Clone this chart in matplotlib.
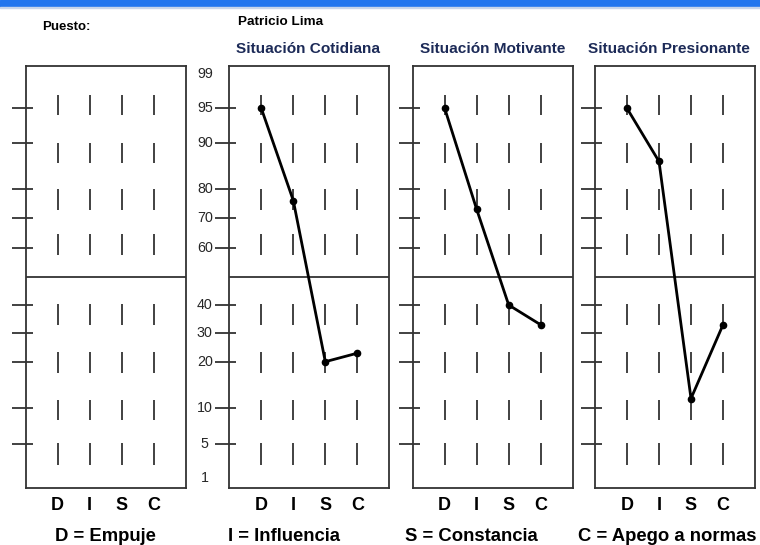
import numpy as np
import matplotlib
matplotlib.use("Agg")
import matplotlib.pyplot as plt
from matplotlib.patches import Rectangle

W, H = 760, 545

# --- data -------------------------------------------------------------
factors = ["D", "I", "S", "C"]
situations = ["Situación Cotidiana", "Situación Motivante", "Situación Presionante"]
cotidiana = [95, 76, 20, 23]
motivante = [95, 73, 40, 33]
presionante = [95, 86, 12, 33]
series = [None, cotidiana, motivante, presionante]

tick_values = [95, 90, 80, 70, 60, 40, 30, 20, 10, 5]
label_values = [99, 95, 90, 80, 70, 60, 40, 30, 20, 10, 5, 1]
legend_texts = ["D = Empuje", "I = Influencia", "S = Constancia", "C = Apego a normas"]
person = "Patricio Lima"

# percentile scale of the chart (percentile -> fraction of the box height)
SCALE_PCT = [0, 1, 5, 10, 20, 30, 40, 50, 60, 70, 80, 90, 95, 99, 100]
_px = [488, 478, 444.3, 407.7, 361.7, 333.3, 305, 276.7, 247.7, 218.3, 188.7, 143.3, 108.3, 74, 65.7]
SCALE_POS = [(488 - p) / 422.3 for p in _px]


def fwd(v):
    return np.interp(v, SCALE_PCT, SCALE_POS)


def inv(v):
    return np.interp(v, SCALE_POS, SCALE_PCT)


# short vertical marks inside each box (axes fractions)
mark_rows = [(0.883, 0.931), (0.770, 0.817), (0.658, 0.708), (0.552, 0.602),
             (0.386, 0.436), (0.272, 0.322), (0.161, 0.208), (0.055, 0.107)]

edge = "#333333"
font = "Liberation Sans"

fig = plt.figure(figsize=(W / 100, H / 100), dpi=100)
fig.patch.set_facecolor("white")

# window title bar strip
fig.patches.append(Rectangle((0, 1 - 7 / H), 1, 7 / H, transform=fig.transFigure,
                             color="#2276ee", zorder=0))
fig.patches.append(Rectangle((0, 1 - 8 / H), 1, 1 / H, transform=fig.transFigure,
                             color="#c8d6ea", zorder=0))

lefts = [25.7, 229.3, 412.7, 595]
title_lefts = [236, 420, 588]
box_w, box_top, box_bot = 160, 65.7, 488

for i, x0 in enumerate(lefts):
    ax = fig.add_axes([x0 / W, (H - box_bot) / H, box_w / W, (box_bot - box_top) / H])
    ax.set_yscale("function", functions=(fwd, inv))
    ax.set_ylim(0, 100)
    ax.set_xlim(0, 5)
    xs = np.arange(1, len(factors) + 1)
    for s in ax.spines.values():
        s.set_color(edge)
        s.set_linewidth(1.3)
    ax.set_xticks([])
    ax.set_yticks([])
    ax.axhline(50, color=edge, lw=1.3)

    for lo, hi in mark_rows:
        ax.vlines(xs, lo, hi, transform=ax.get_xaxis_transform(), color=edge, lw=1.3)

    ax.hlines(tick_values, -14 / box_w, 7 / box_w, transform=ax.get_yaxis_transform(),
              color=edge, lw=1.3, clip_on=False)

    if i == 1:
        for v in label_values:
            ax.text(-24.5 / box_w, v, str(v), transform=ax.get_yaxis_transform(),
                    ha="center", va="center", fontsize=10.3, family=font, color="#262626")

    if series[i] is not None:
        ax.plot(xs, series[i], color="black", lw=2, marker="o", ms=4.5, zorder=5)
        fig.text(title_lefts[i - 1] / W, 1 - 53 / H, situations[i - 1],
                 ha="left", va="baseline", fontsize=11.1, fontweight="bold",
                 family=font, color="#1c2a57")

    for xv, f in zip(xs, factors):
        ax.text(xv, -17 / 422.3, f, transform=ax.get_xaxis_transform(), ha="center",
                va="center", fontsize=13, fontweight="bold", family=font, color="black")

# header and footer texts
fig.text(42 / W, 1 - 30 / H, "Puesto:", fontsize=9.5, fontweight="bold", family=font,
         ha="left", va="baseline")
fig.text(238 / W, 1 - 25 / H, person, fontsize=9.7, fontweight="bold", family=font,
         ha="left", va="baseline")
for xl, t in zip([55, 228, 405, 578], legend_texts):
    fig.text(xl / W, 1 - 541 / H, t, fontsize=13.3, fontweight="bold", family=font,
             ha="left", va="baseline")

fig.savefig("out.png", dpi=100)
